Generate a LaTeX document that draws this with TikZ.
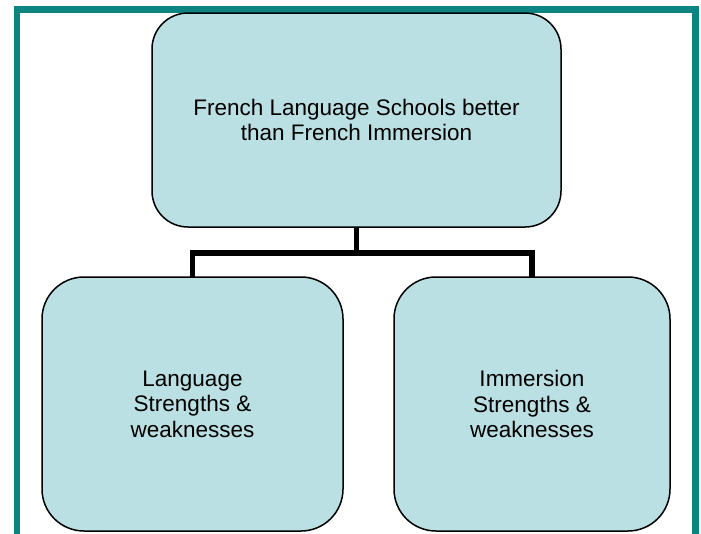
\documentclass[tikz,border=0pt]{standalone}
\usepackage{fontspec}
\setmainfont{Liberation Sans}
\definecolor{boxfill}{HTML}{BBE0E3}
\definecolor{framecol}{HTML}{0E8482}
\begin{document}
\begin{tikzpicture}[x=1pt,y=-1pt,
  boxnode/.style={draw=black, line width=1.5pt, fill=boxfill, rectangle, align=center,
    inner sep=0pt, outer sep=0pt, font=\fontsize{22.5}{25.5}\selectfont},
  conn/.style={draw=black, line width=5.5pt, line join=miter}]
\useasboundingbox (0,0) rectangle (701,533);
\begin{scope}
\clip (0,0) rectangle (701,533);
\draw[framecol, line width=6.5pt] (17,560) -- (17,9.5) -- (695.5,9.5) -- (695.5,560);
\end{scope}
\node[boxnode, rounded corners=36pt, minimum width=409pt, minimum height=214pt] (top) at (356.5,120)
  {French Language Schools better\\than French Immersion};
\node[boxnode, rounded corners=42pt, minimum width=301pt, minimum height=254pt] (bl) at (192.5,404)
  {Language\\Strengths \&\\weaknesses};
\node[boxnode, rounded corners=42pt, minimum width=276pt, minimum height=254pt] (br) at (532,404)
  {Immersion\\Strengths \&\\weaknesses};
\coordinate (j) at (356.5,253);
\draw[conn] (top.south) -- (j);
\draw[conn] (bl.north) |- (j) -| (br.north);
\end{tikzpicture}
\end{document}
